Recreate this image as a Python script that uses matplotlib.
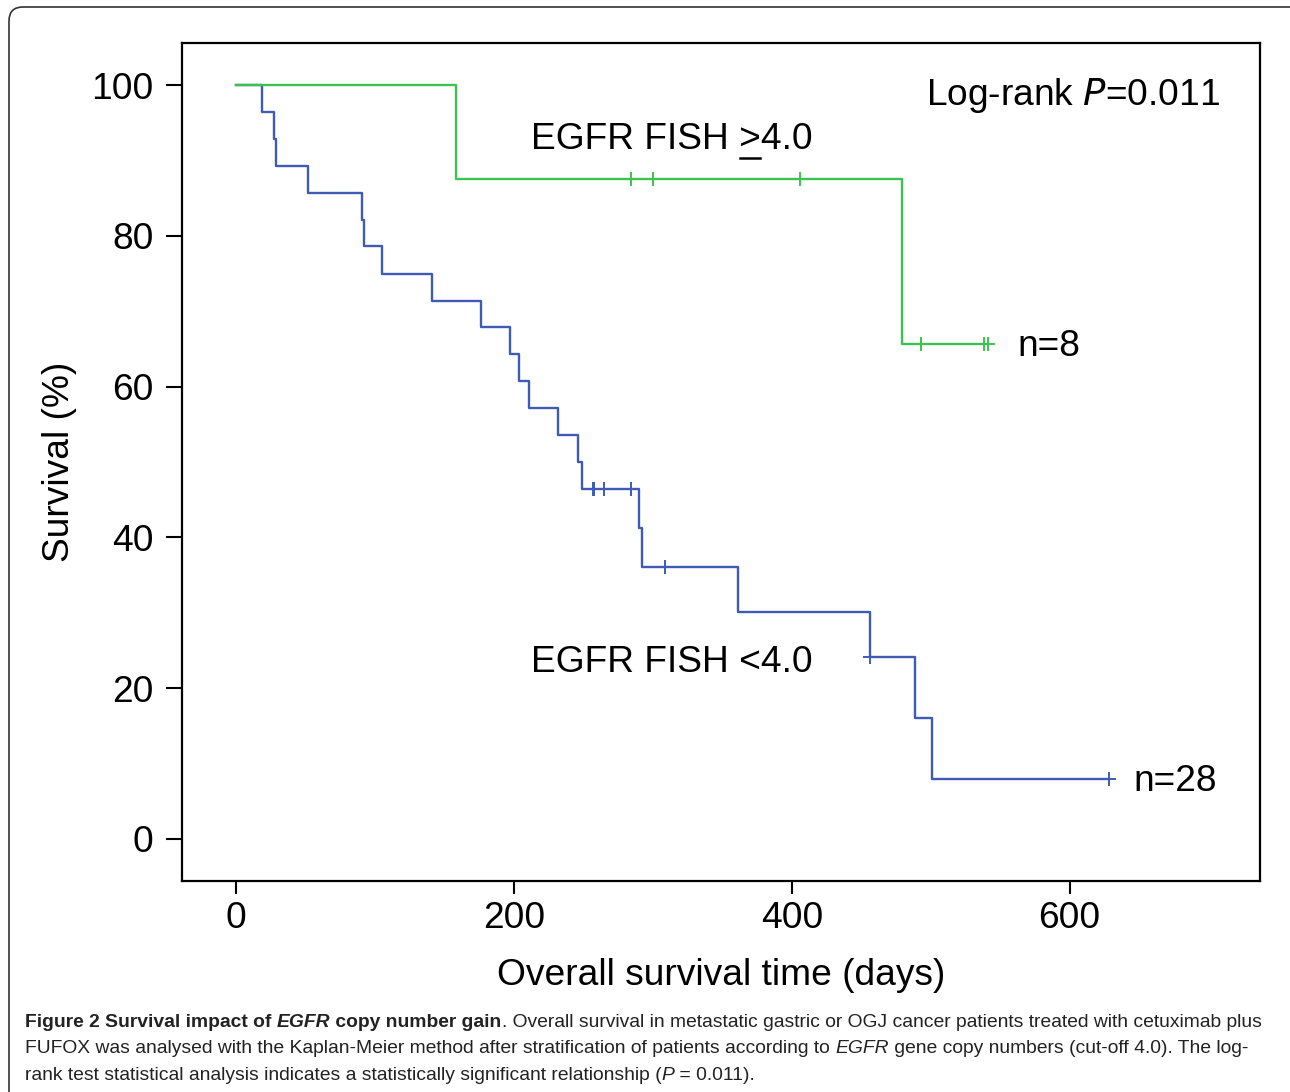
import numpy as np
import matplotlib
matplotlib.use('Agg')
import matplotlib.pyplot as plt
from matplotlib.patches import FancyBboxPatch
from matplotlib.transforms import IdentityTransform

# Kaplan-Meier steps (days, survival %)
low_t = [0, 19, 27, 29, 52, 91, 92, 105, 141, 176, 197, 204, 211, 232, 246, 249,
         290, 292, 361, 456, 489, 501, 628]
low_s = [100, 96.4, 92.9, 89.3, 85.7, 82.1, 78.6, 75.0, 71.4, 67.9, 64.3, 60.7,
         57.1, 53.6, 50.0, 46.4, 41.3, 36.1, 30.1, 24.1, 16.0, 8.0, 8.0]
low_censor = [257, 258, 265, 284, 309, 456, 628]

high_t = [0, 158, 479, 541]
high_s = [100, 87.5, 65.6, 65.6]
high_censor = [284, 300, 406, 493, 538, 541]

x_ticks = [0, 200, 400, 600]
y_ticks = [0, 20, 40, 60, 80, 100]

blue = '#3f5bb5'
green = '#3cc34f'

plt.rcParams['font.family'] = ['Liberation Sans', 'DejaVu Sans']

fig = plt.figure(figsize=(12.9, 10.92), dpi=100)
ax = fig.add_axes([182 / 1290, 1 - 881 / 1092, 1078 / 1290, 838 / 1092])


def censor_y(t, s, c):
    idx = np.searchsorted(t, c, side='right') - 1
    return np.array(s)[idx]


ax.step(low_t, low_s, where='post', color=blue, lw=1.7)
ax.plot(low_censor, censor_y(low_t, low_s, low_censor), '+', color=blue, ms=10, mew=1.4)
ax.step(high_t, high_s, where='post', color=green, lw=1.7)
ax.plot(high_censor, censor_y(high_t, high_s, high_censor), '+', color=green, ms=10, mew=1.4)

fs = 26.7
ax.set_xlim(-38.9, 737)
ax.set_ylim(-5.6, 105.6)
ax.set_xticks(x_ticks)
ax.set_yticks(y_ticks)
ax.tick_params(axis='y', length=11.5, width=1.5, pad=9, labelsize=fs)
ax.tick_params(axis='x', length=9.4, width=1.5, pad=5, labelsize=fs)
for sp in ax.spines.values():
    sp.set_linewidth(1.6)
ax.set_xlabel('Overall survival time (days)', fontsize=fs, labelpad=16)
ax.set_ylabel('Survival (%)', fontsize=fs, labelpad=10)

ax.text(496.8, 97.4, 'Log-rank $\\it{P}$=0.011', fontsize=fs)
ax.text(645.8, 6.4, 'n=28', fontsize=fs)
ax.text(562.3, 64.0, 'n=8', fontsize=fs)
ax.text(212.4, 22.1, 'EGFR FISH <4.0', fontsize=fs)
hi = ax.text(212.4, 91.6, 'EGFR FISH >4.0', fontsize=fs)

# underline the ">" sign
fig.canvas.draw()
r = fig.canvas.get_renderer()
pre = ax.text(212.4, 91.6, 'EGFR FISH ', fontsize=fs, alpha=0)
gt = ax.text(212.4, 91.6, '>', fontsize=fs, alpha=0)
bb_pre = pre.get_window_extent(renderer=r)
bb_gt = gt.get_window_extent(renderer=r)
x0 = bb_pre.x0 + bb_pre.width
x1 = x0 + bb_gt.width
y_line = hi.get_window_extent(renderer=r).y0 - 1
inv = ax.transData.inverted()
(dx0, dy), (dx1, _) = inv.transform([(x0 + 1, y_line), (x1 - 1, y_line)])
ax.plot([dx0, dx1], [dy, dy], color='black', lw=1.8, clip_on=False)

# caption
cap = dict(fontsize=13.85, family=['Liberation Sans Narrow', 'Liberation Sans'], color='#222222')


def put_runs(x, y, runs):
    for s, weight, style in runs:
        t = fig.text(x / 1290, 1 - y / 1092, s, fontweight=weight, fontstyle=style,
                     va='baseline', **cap)
        x += t.get_window_extent(renderer=r).width


put_runs(25, 1027, [('Figure 2 Survival impact of ', 'bold', 'normal'),
                    ('EGFR', 'bold', 'italic'),
                    (' copy number gain', 'bold', 'normal'),
                    ('. Overall survival in metastatic gastric or OGJ cancer patients treated with cetuximab plus',
                     'normal', 'normal')])
put_runs(25, 1053, [('FUFOX was analysed with the Kaplan-Meier method after stratification of patients according to ',
                     'normal', 'normal'),
                    ('EGFR', 'normal', 'italic'),
                    (' gene copy numbers (cut-off 4.0). The log-', 'normal', 'normal')])
put_runs(25, 1080, [('rank test statistical analysis indicates a statistically significant relationship (',
                     'normal', 'normal'),
                    ('P', 'normal', 'italic'),
                    (' = 0.011).', 'normal', 'normal')])

# rounded frame around the figure
frame = FancyBboxPatch((9, -20), 1300, 1092 - 7 + 20,
                       boxstyle='round,pad=0,rounding_size=14',
                       transform=IdentityTransform(), fill=False,
                       edgecolor='#333333', lw=1.2, clip_on=False)
fig.patches.append(frame)

fig.savefig('out.png', dpi=100)
